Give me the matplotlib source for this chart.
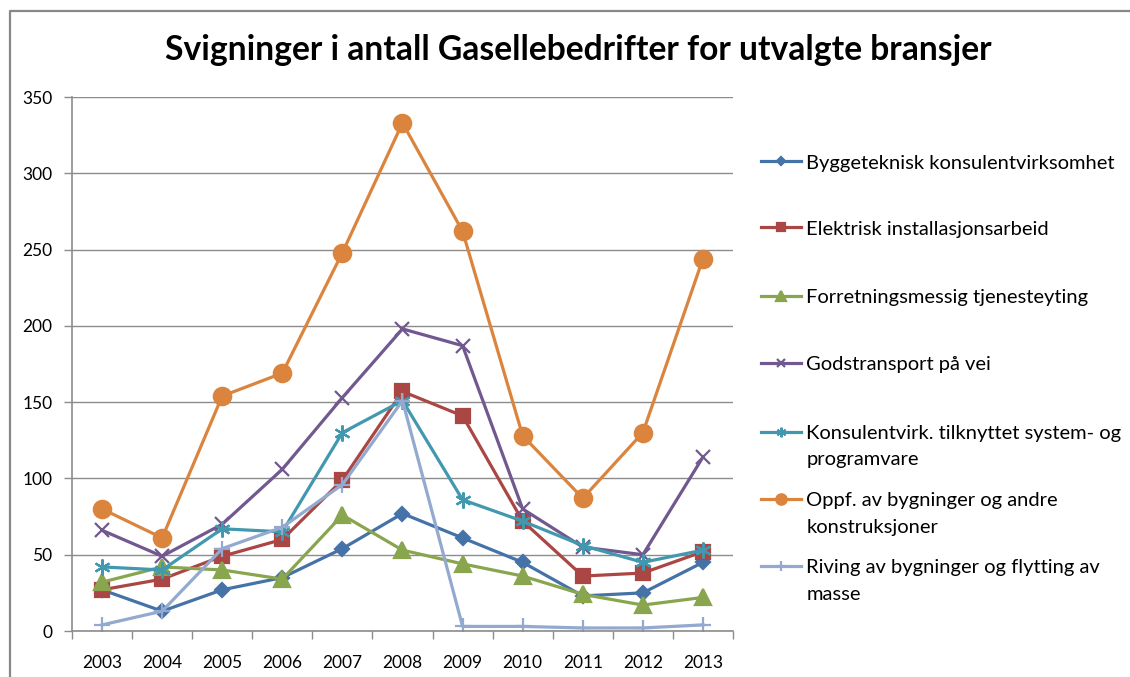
import matplotlib

matplotlib.use("Agg")
import matplotlib.pyplot as plt
from matplotlib.lines import Line2D

plt.rcParams["font.family"] = ["Lato", "DejaVu Sans"]

years = [2003, 2004, 2005, 2006, 2007, 2008, 2009, 2010, 2011, 2012, 2013]

byggeteknisk = [27, 13, 27, 35, 54, 77, 61, 45, 23, 25, 45]
elektrisk = [27, 34, 49, 60, 99, 157, 141, 72, 36, 38, 52]
forretning = [32, 42, 40, 34, 76, 53, 44, 36, 24, 17, 22]
godstransport = [66, 49, 70, 106, 153, 198, 187, 80, 55, 50, 114]
konsulent = [42, 40, 67, 65, 130, 151, 86, 72, 56, 45, 53]
oppforing = [80, 61, 154, 169, 248, 333, 262, 128, 87, 130, 244]
riving = [4, 13, 54, 68, 96, 151, 3, 3, 2, 2, 4]

labels = [
    "Byggeteknisk konsulentvirksomhet",
    "Elektrisk installasjonsarbeid",
    "Forretningsmessig tjenesteyting",
    "Godstransport på vei",
    "Konsulentvirk. tilknyttet system- og\nprogramvare",
    "Oppf. av bygninger og andre\nkonstruksjoner",
    "Riving av bygninger og flytting av\nmasse",
]
series = [byggeteknisk, elektrisk, forretning, godstransport, konsulent, oppforing, riving]
colors = ["#4572A7", "#AA4643", "#89A54E", "#71588F", "#4198AF", "#DB843D", "#93A9CF"]
markers = ["D", "s", "^", "x", (6, 2, 0), "o", "+"]
sizes = [7.5, 10, 11.5, 10.5, 11.5, 12.5, 11.5]

W, H = 1130, 677
fig = plt.figure(figsize=(W / 100, H / 100), dpi=100)
ax = fig.add_axes([72 / W, 1 - 631 / H, (733 - 72) / W, (631 - 97) / H])

lines = []
for vals, lab, col, mk, ms in zip(series, labels, colors, markers, sizes):
    (ln,) = ax.plot(years, vals, color=col, lw=2.3, marker=mk, ms=ms,
                    mec=col, mfc=col, mew=1.6, label=lab)
    lines.append(ln)

ax.set_xlim(2002.5, 2013.5)
ax.set_ylim(0, 350)
ax.set_yticks(range(0, 351, 50))
ax.set_xticks(years)
ax.set_xticks([y + 0.5 for y in [2002] + years], minor=True)
ax.grid(axis="y", color="#8c8c8c", lw=1)
ax.set_axisbelow(True)
for side in ["top", "right"]:
    ax.spines[side].set_visible(False)
for side in ["left", "bottom"]:
    ax.spines[side].set_color("#8c8c8c")
    ax.spines[side].set_linewidth(1.2)
ax.tick_params(axis="x", which="major", length=0, pad=17, labelsize=12.5, colors="#000000")
ax.tick_params(axis="x", which="minor", length=6, color="#8c8c8c", width=1)
ax.tick_params(axis="y", length=6, color="#8c8c8c", width=1, pad=8, labelsize=12.5)

fig.text(578 / W, 1 - 50 / H, "Svigninger i antall Gasellebedrifter for utvalgte bransjer",
         ha="center", va="center", fontsize=24.2, fontweight="bold")

# legend: one entry per slot, handle on the first line like Excel
first_line_y = [163, 229, 297, 364, 433, 500, 567]
for ln, lab, yc in zip(lines, labels, first_line_y):
    head, _, rest = lab.partition("\n")
    leg = fig.legend(handles=[ln], labels=[head], loc="center left",
                     bbox_to_anchor=(761 / W, 1 - yc / H),
                     frameon=False, fontsize=14.5, borderpad=0, borderaxespad=0,
                     handlelength=2.0, handletextpad=0.25, markerscale=0.6)
    if rest:
        fig.text(807 / W, 1 - (yc + 27) / H, rest, ha="left", va="center", fontsize=14.5)

# chart-area border (only top and left edges are inside the picture)
x0, y0 = 10 / W, 1 - 11 / H
fig.add_artist(Line2D([x0, x0, 1.05], [-0.05, y0, y0], transform=fig.transFigure,
                      color="#888888", lw=1.6))

fig.savefig("out.png", dpi=100)
